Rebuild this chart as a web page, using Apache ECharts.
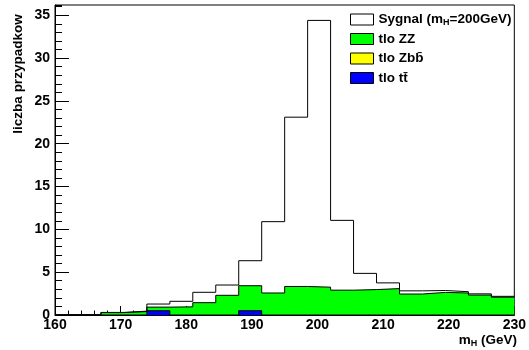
<!DOCTYPE html>
<html>
<head>
<meta charset="utf-8">
<script src="https://cdn.jsdelivr.net/npm/echarts@6/dist/echarts.min.js"></script>
<style>
  html, body { margin: 0; padding: 0; background: #fff; }
  #chart { width: 529px; height: 350px; }
</style>
</head>
<body>
<div id="chart"></div>
<script>
// Histogram bins: lower edges (GeV), width 3.5 GeV, last bin closes at 230
const binLowEdges = [160, 163.5, 167, 170.5, 174, 177.5, 181, 184.5, 188, 191.5,
                     195, 198.5, 202, 205.5, 209, 212.5, 216, 219.5, 223, 226.5];
const binUpperEdge = 230;

// Event counts per bin, stacked bottom to top: tt, Zbb, ZZ, signal
const countsTT  = [0, 0, 0, 0, 0.5, 0, 0, 0, 0.5, 0, 0, 0, 0, 0, 0, 0, 0, 0, 0, 0];
const countsZbb = [0, 0, 0, 0, 0, 0, 0, 0, 0, 0, 0, 0, 0, 0, 0, 0, 0, 0, 0, 0];
const countsZZ  = [0, 0, 0.28, 0.4, 0.42, 0.95, 1.44, 2.3, 2.92, 2.57,
                   3.33, 3.25, 2.9, 2.97, 3.08, 2.45, 2.64, 2.57, 2.33, 2.08];
const countsSignal = [0, 0, 0.02, 0.05, 0.36, 0.65, 1.21, 1.2, 2.92, 8.33,
                      19.77, 31.15, 8.15, 1.89, 0.67, 0.37, 0.22, 0.15, 0.14, 0.1];

const xMin = 160, xMax = 230, xStep = 10;
const yMin = 0, yMax = 36.2, yStep = 5;

// cumulative stack tops
function addArrays(a, b) { return a.map((v, i) => v + b[i]); }
const topTT = countsTT.slice();
const topZbb = addArrays(topTT, countsZbb);
const topZZ = addArrays(topZbb, countsZZ);
const topSignal = addArrays(topZZ, countsSignal);

// step-line points: one per bin lower edge plus the closing edge
function stepPoints(tops) {
  const pts = binLowEdges.map((x, i) => [x, tops[i]]);
  pts.push([binUpperEdge, tops[tops.length - 1]]);
  return pts;
}

const FONT = '"Liberation Sans", Arial, Helvetica, sans-serif';
const labelStyle = { fontFamily: FONT, fontWeight: 'bold', fontSize: 14, color: '#000' };

function histSeries(name, tops, fill, z) {
  return {
    name: name,
    type: 'line',
    step: 'end',
    data: stepPoints(tops),
    symbol: 'none',
    showSymbol: false,
    silent: true,
    z: z,
    lineStyle: { color: '#000', width: 1 },
    itemStyle: { color: fill || '#fff', borderColor: '#000', borderWidth: 1 },
    areaStyle: fill ? { color: fill, opacity: 1 } : undefined
  };
}

const chart = echarts.init(document.getElementById('chart'), null, { renderer: 'canvas' });
chart.setOption({
  animation: false,
  backgroundColor: '#fff',
  grid: { left: 55, right: 11, top: 5, bottom: 35, show: true, borderColor: '#000', borderWidth: 1, backgroundColor: 'transparent' },
  xAxis: {
    type: 'value', min: xMin, max: xMax, interval: xStep,
    axisLine: { lineStyle: { color: '#000', width: 1 } },
    axisTick: { inside: true, length: 9, lineStyle: { color: '#000' } },
    minorTick: { show: true, splitNumber: 5, length: 4.5, lineStyle: { color: '#000' } },
    splitLine: { show: false },
    axisLabel: Object.assign({ margin: 3 }, labelStyle)
  },
  yAxis: [{
    type: 'value', min: yMin, max: yMax, interval: yStep,
    axisLine: { lineStyle: { color: '#000', width: 1 } },
    axisTick: { inside: true, length: 14, lineStyle: { color: '#000' } },
    splitLine: { show: false },
    axisLabel: Object.assign({ margin: 5, showMaxLabel: false }, labelStyle)
  }, {
    type: 'value', min: yMin, max: yMax, interval: 1, position: 'left', offset: 0,
    axisLine: { show: false },
    axisTick: { inside: true, length: 7, lineStyle: { color: '#000' } },
    splitLine: { show: false },
    axisLabel: { show: false }
  }],
  legend: {
    orient: 'vertical', left: 350, top: 12, padding: 0,
    icon: 'rect', itemWidth: 23, itemHeight: 11, itemGap: 4.5,
    selectedMode: false,
    textStyle: {
      fontFamily: FONT, fontWeight: 'bold', fontSize: 13.5, lineHeight: 15, color: '#000',
      padding: [0, 0, 0, 0],
      rich: {
        b: { fontFamily: FONT, fontWeight: 'bold', fontSize: 13.5, lineHeight: 15, color: '#000' },
        s: { fontFamily: FONT, fontWeight: 'bold', fontSize: 9, lineHeight: 15, color: '#000', padding: [6, 0, 0, 0] }
      }
    },
    formatter: function (name) {
      if (name === 'Sygnal') return '{b|Sygnal (m}{s|H}{b|=200GeV)}';
      return name;
    },
    data: [
      { name: 'Sygnal', itemStyle: { color: '#fff', borderColor: '#000', borderWidth: 1 } },
      { name: 'tlo ZZ', itemStyle: { color: '#00ff00', borderColor: '#000', borderWidth: 1 } },
      { name: 'tlo Zbb\u0304', itemStyle: { color: '#ffff00', borderColor: '#000', borderWidth: 1 } },
      { name: 'tlo tt\u0304', itemStyle: { color: '#0000ff', borderColor: '#000', borderWidth: 1 } }
    ]
  },
  graphic: [
    {
      type: 'text', x: 18, y: 74, rotation: Math.PI / 2,
      style: { text: 'liczba przypadkow', font: 'bold 13.5px ' + FONT, fill: '#000', align: 'center', verticalAlign: 'middle' }
    },
    {
      type: 'text', right: 12, top: 333,
      style: {
        text: '{b|m}{s|H}{b| (GeV)}', fill: '#000',
        rich: {
          b: { fontFamily: FONT, fontWeight: 'bold', fontSize: 13.5, lineHeight: 15 },
          s: { fontFamily: FONT, fontWeight: 'bold', fontSize: 9, lineHeight: 15, padding: [6, 0, 0, 0] }
        }
      }
    }
  ],
  series: [
    histSeries('Sygnal', topSignal, null, 5),
    histSeries('tlo ZZ', topZZ, '#00ff00', 4),
    histSeries('tlo Zbb\u0304', topZbb, '#ffff00', 3),
    histSeries('tlo tt\u0304', topTT, '#0000ff', 6)
  ]
});
</script>
</body>
</html>
